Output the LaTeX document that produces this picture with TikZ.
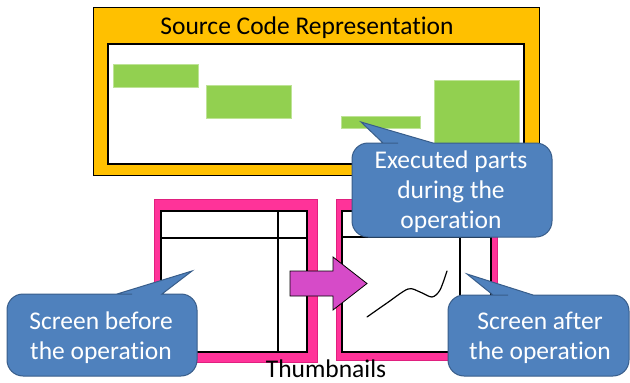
\documentclass[tikz,border=0pt]{standalone}
\usepackage{fontspec}
\setmainfont{Carlito}[Ligatures=NoCommon]
\definecolor{codeorange}{HTML}{FFC000}
\definecolor{partgreen}{HTML}{92D050}
\definecolor{calloutblue}{HTML}{4F81BD}
\definecolor{calloutedge}{HTML}{385D8A}
\definecolor{thumbpink}{HTML}{FF3399}
\definecolor{thumbedge}{HTML}{E0207F}
\definecolor{arrowmagenta}{HTML}{D64BC8}
\tikzset{
  bigtext/.style={font=\fontsize{25.5}{30}\selectfont, align=center, inner sep=0pt},
  calloutshape/.style={fill=calloutblue, draw=calloutedge, line width=1pt},
  calloutlabel/.style={bigtext, text=white},
  greenpart/.style={fill=partgreen, draw=partgreen!60!white, line width=0.6pt},
  thumbframe/.style={fill=thumbpink, draw=thumbedge, line width=1pt},
  screenbox/.style={fill=white, draw=black, line width=1.4pt},
  gridline/.style={draw=black, line width=1.4pt},
}
\begin{document}
\begin{tikzpicture}[x=1pt, y=-1pt]
\useasboundingbox (0,0) rectangle (630,383);

% source code panel
\draw[fill=codeorange, draw=black, line width=1pt] (93,7) rectangle (539,175);
\node[bigtext] (title) at (307,28) {Source Code Representation};
\draw[fill=white, draw=black, line width=2pt] (108,44) rectangle (524,164);

% code blocks that ran
\path[greenpart] (113,64) rectangle (198,87);
\path[greenpart] (206,85) rectangle (291,118);
\coordinate (hit) at (361,122);
\path[greenpart] (341,116) rectangle (420,128);
\path[greenpart] (434,80) rectangle (519,152);

% thumbnail before
\path[thumbframe] (154,199) rectangle (317,362);
\path[screenbox] (161,211) rectangle (307,352);
\draw[gridline] (161,238) -- (307,238);
\draw[gridline] (278,211) -- (278,352);
\coordinate (beforetip) at (192,271);

% thumbnail after
\path[thumbframe] (336,199) rectangle (497,360);
\path[screenbox] (342,211) rectangle (491,352);
\draw[gridline] (342,237) -- (491,237);
\draw[gridline] (460,211) -- (460,352);
\draw[line width=1.2pt, line cap=round] plot[smooth] coordinates
  {(367,317) (387,303) (408,289) (420,292) (432,297) (440,290) (447,271)};
\coordinate (aftertip) at (467,274);

% block arrow between thumbnails
\draw[fill=arrowmagenta, draw=black, line width=0.8pt]
  (290,271) -- (333,271) -- (333,257) -- (367,283.5) -- (333,310) -- (333,296) -- (290,296) -- cycle;

% callouts
\path[calloutshape] (hit) -- (433,143) [rounded corners=16pt] -- (552,143) -- (552,237) -- (352,237) -- (352,143) -- (382,143) [sharp corners] -- (383,143) -- cycle;
\node[calloutlabel] (executed) at (451,192) {Executed parts\\during the\\operation};

\path[calloutshape] (beforetip) -- (162,294) [rounded corners=16pt] -- (197,294) -- (197,376) -- (7,376) -- (7,294) -- (116,294) [sharp corners] -- (117,294) -- cycle;
\node[calloutlabel] (before) at (101,338) {Screen before\\the operation};

\path[calloutshape] (aftertip) -- (533,295) [rounded corners=16pt] -- (629,295) -- (629,376) -- (448,376) -- (448,295) -- (492,295) [sharp corners] -- (493,295) -- cycle;
\node[calloutlabel] (after) at (540,338) {Screen after\\the operation};

\node[bigtext] (thumbs) at (326,369) {Thumbnails};
\end{tikzpicture}
\end{document}
